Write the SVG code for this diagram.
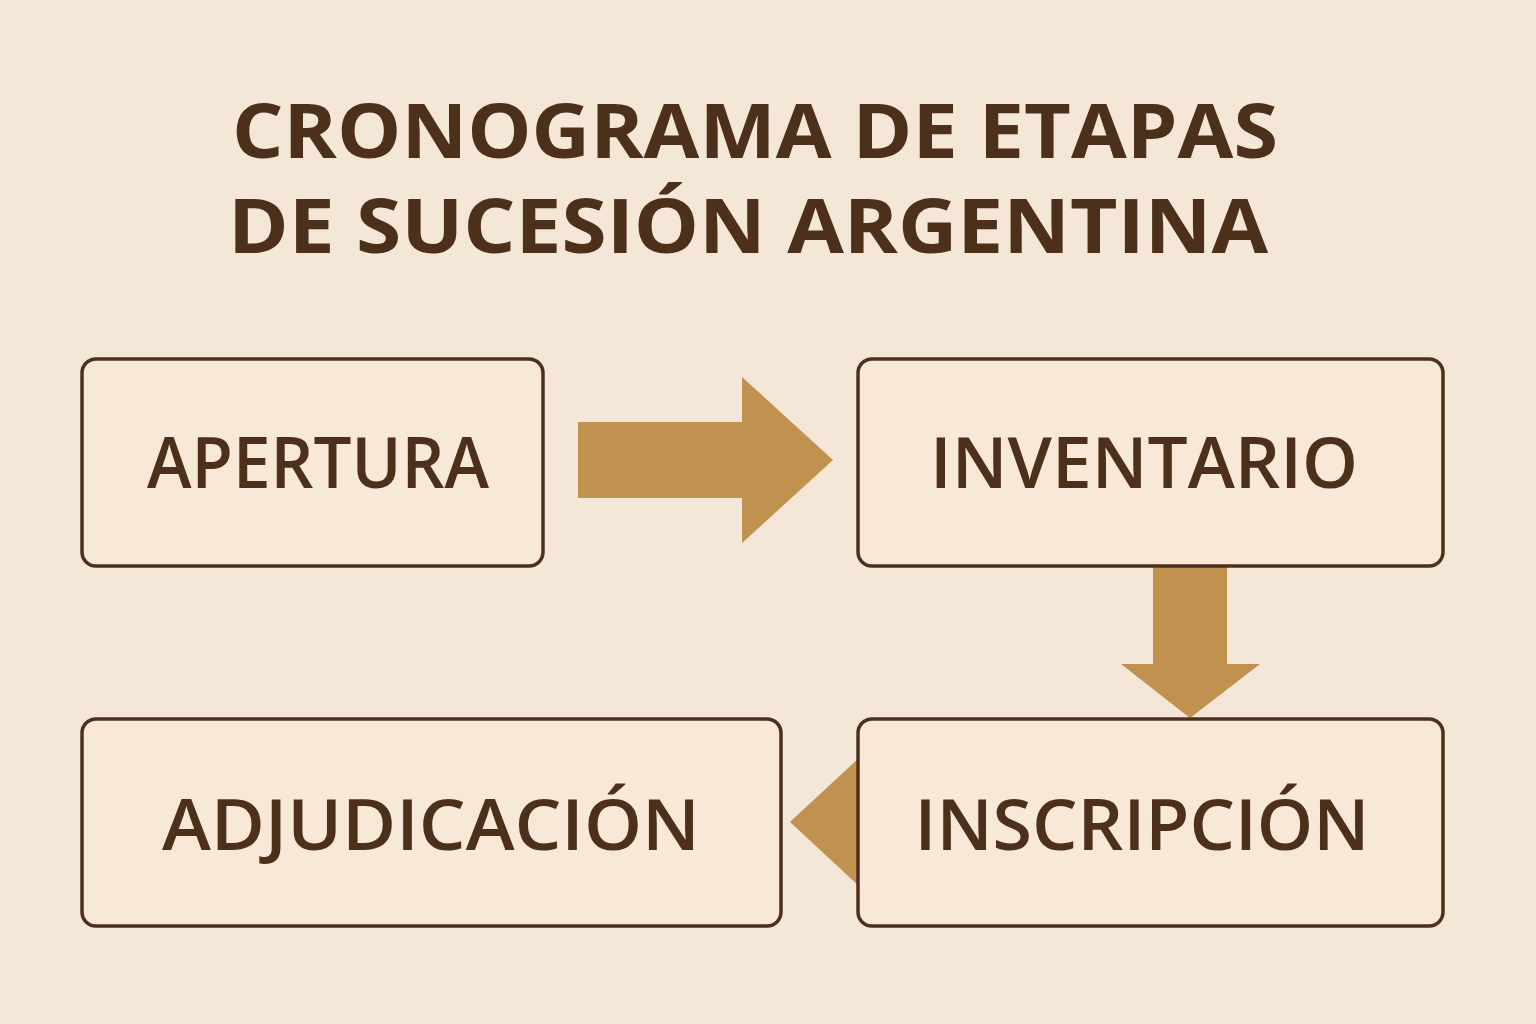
<svg xmlns="http://www.w3.org/2000/svg" width="1536" height="1024" viewBox="0 0 1536 1024">
<defs><style>
.box{fill:#f7e8d8;stroke:#4d301c;stroke-width:3.5}
.lbl{font-family:"Open Sans","Liberation Sans",sans-serif;font-weight:600;font-size:70px;fill:#4d301c;text-anchor:middle}
.ttl{font-family:"Open Sans","Liberation Sans",sans-serif;font-weight:700;font-size:76px;fill:#4d301c;text-anchor:middle}
.arr{fill:#c0914f}
</style></defs>
<rect width="1536" height="1024" fill="#f5e7d7"/>
<g id="title">
<text class="ttl" x="755" y="158" textLength="1046" lengthAdjust="spacingAndGlyphs">CRONOGRAMA DE ETAPAS</text>
<text class="ttl" x="748" y="253" textLength="1040" lengthAdjust="spacingAndGlyphs">DE SUCESIÓN ARGENTINA</text>
</g>
<g id="connectors">
<polygon class="arr" points="578,422 742,422 742,377 833,460 742,543 742,498 578,498"/>
<polygon class="arr" points="1153,566 1227,566 1227,664 1260,664 1190,718 1121,664 1153,664"/>
<polygon class="arr" points="790,822 860,757 860,887"/>
</g>
<g id="apertura"><rect class="box" x="82" y="359" width="461" height="207" rx="14"/>
<text class="lbl" x="318" y="488" textLength="342" lengthAdjust="spacingAndGlyphs">APERTURA</text></g>
<g id="inventario"><rect class="box" x="858" y="359" width="585" height="207" rx="14"/>
<text class="lbl" x="1144" y="488" textLength="428" lengthAdjust="spacingAndGlyphs">INVENTARIO</text></g>
<g id="adjudicacion"><rect class="box" x="82" y="719" width="699" height="207" rx="14"/>
<text class="lbl" x="431" y="850" textLength="538" lengthAdjust="spacingAndGlyphs">ADJUDICACIÓN</text></g>
<g id="inscripcion"><rect class="box" x="858" y="719" width="585" height="207" rx="14"/>
<text class="lbl" x="1142" y="850" textLength="455" lengthAdjust="spacingAndGlyphs">INSCRIPCIÓN</text></g>
</svg>
